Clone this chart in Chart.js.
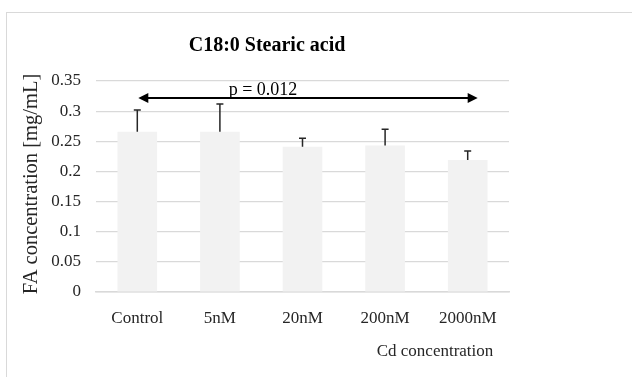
<!DOCTYPE html>
<html>
<head>
<meta charset="utf-8">
<script src="https://cdn.jsdelivr.net/npm/chart.js"></script>
<style>
  body { margin: 0; background: #fff; }
  #wrap { position: relative; width: 632px; height: 377px; overflow: hidden; }
  #frame { position: absolute; left: 6px; top: 12px; width: 700px; height: 420px; border: 1px solid #d9d9d9; }
  canvas { position: absolute; left: 0; top: 0; }
</style>
</head>
<body>
<div id="wrap">
  <div id="frame"></div>
  <canvas id="chart" width="632" height="377"></canvas>
</div>
<script>
// --- Data ---
const categories = ['Control', '5nM', '20nM', '200nM', '2000nM'];
const means = [0.266, 0.266, 0.241, 0.243, 0.219];
const errors = [0.036, 0.046, 0.014, 0.027, 0.015];
const yTicks = [0, 0.05, 0.1, 0.15, 0.2, 0.25, 0.3, 0.35];
const pLabel = 'p = 0.012';
const pLevel = 0.322;

const FONT = '"Liberation Serif", "DejaVu Serif", serif';

// error bars (upper only) and significance arrow
const extras = {
    id: 'extras',
    afterDatasetsDraw(chart) {
        const ctx = chart.ctx;
        const x = chart.scales.x, y = chart.scales.y;
        ctx.save();
        ctx.strokeStyle = '#262626';
        ctx.lineWidth = 1.5;
        means.forEach((m, i) => {
            const px = x.getPixelForValue(i);
            const top = y.getPixelForValue(m + errors[i]);
            ctx.beginPath();
            ctx.moveTo(px, y.getPixelForValue(m));
            ctx.lineTo(px, top);
            ctx.moveTo(px - 3.5, top);
            ctx.lineTo(px + 3.5, top);
            ctx.stroke();
        });

        // arrow
        const x1 = x.getPixelForValue(0) + 1;
        const x2 = x.getPixelForValue(categories.length - 1) + 10;
        const py = y.getPixelForValue(pLevel);
        ctx.strokeStyle = '#000';
        ctx.fillStyle = '#000';
        ctx.lineWidth = 2;
        ctx.beginPath();
        ctx.moveTo(x1 + 8, py);
        ctx.lineTo(x2 - 8, py);
        ctx.stroke();
        ctx.beginPath();
        ctx.moveTo(x1, py); ctx.lineTo(x1 + 10, py - 5); ctx.lineTo(x1 + 10, py + 5); ctx.closePath();
        ctx.fill();
        ctx.beginPath();
        ctx.moveTo(x2, py); ctx.lineTo(x2 - 10, py - 5); ctx.lineTo(x2 - 10, py + 5); ctx.closePath();
        ctx.fill();

        ctx.font = '18px ' + FONT;
        ctx.fillStyle = '#000';
        ctx.textAlign = 'center';
        ctx.textBaseline = 'alphabetic';
        ctx.fillText(pLabel, 263, 95);

        // titles
        ctx.font = 'bold 20px ' + FONT;
        ctx.fillText('C18:0 Stearic acid', 267, 51);

        ctx.font = '17px ' + FONT;
        ctx.fillStyle = '#262626';
        ctx.fillText('Cd concentration', 435, 356);

        ctx.translate(32, 184);
        ctx.rotate(-Math.PI / 2);
        ctx.textBaseline = 'middle';
        ctx.font = '20.5px ' + FONT;
        ctx.fillText('FA concentration [mg/mL]', 0, 0);
        ctx.restore();
    }
};

new Chart(document.getElementById('chart'), {
    type: 'bar',
    data: {
        labels: categories,
        datasets: [{
            data: means,
            backgroundColor: '#f2f2f2',
            categoryPercentage: 1,
            barPercentage: 0.48
        }]
    },
    options: {
        responsive: false,
        animation: false,
        layout: { padding: { left: 0, right: 123, top: 81, bottom: 0 } },
        plugins: { legend: { display: false }, tooltip: { enabled: false } },
        scales: {
            x: {
                grid: { display: false, drawTicks: false },
                border: { color: '#d9d9d9', width: 1.5 },
                ticks: { color: '#262626', padding: 16, font: { family: FONT, size: 17 } },
                afterFit: s => { s.height = 85; }
            },
            y: {
                min: 0,
                max: 0.35,
                afterBuildTicks: s => { s.ticks = yTicks.map(v => ({ value: v })); },
                grid: { color: '#d9d9d9', lineWidth: 1.2, drawTicks: false },
                border: { display: false },
                ticks: { color: '#262626', padding: 15, font: { family: FONT, size: 17 }, callback: v => String(v) },
                afterFit: s => { s.width = 96; }
            }
        }
    },
    plugins: [extras]
});
</script>
</body>
</html>
